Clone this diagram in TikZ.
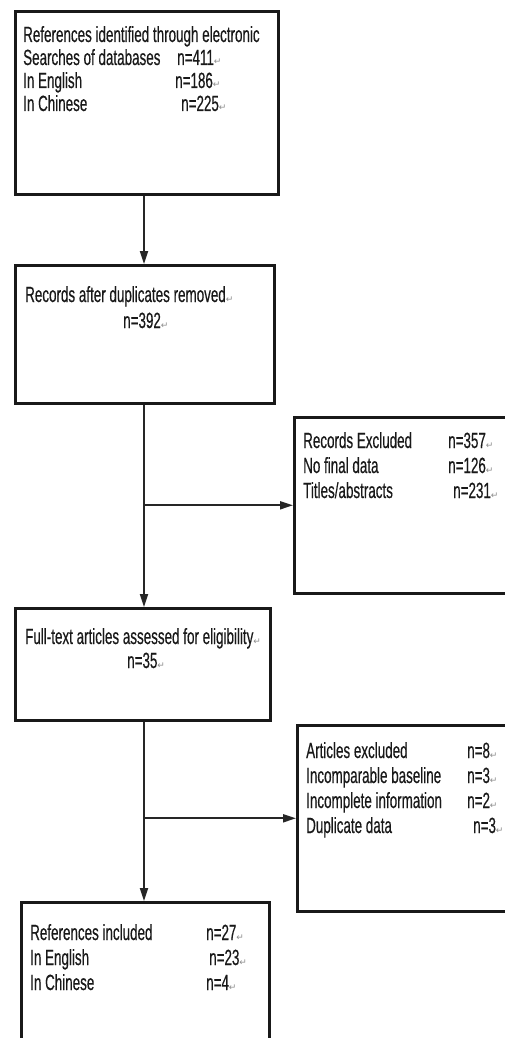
\documentclass[tikz,border=0pt]{standalone}
\usepackage{fontspec}
\setmainfont{Liberation Sans}[FakeStretch=0.61,FakeBold=0.4]
\newfontfamily\markfont{DejaVu Sans}
\usetikzlibrary{arrows.meta}
\newcommand{\pmk}{{\markfont\fontsize{9}{9}\selectfont\textcolor{black!45}{↵}}}

\tikzset{
  box/.style={draw=black!90, line width=2.6pt, anchor=north west, inner sep=0pt},
  txt/.style={anchor=base west, inner sep=0pt, text=black!90, font=\fontsize{22}{23}\selectfont},
  arr/.style={draw=black!85, line width=1.9pt, -{Triangle[length=13pt,width=8pt]}}
}

\begin{document}
\begin{tikzpicture}[x=1pt, y=-1pt]
    \useasboundingbox (0,0) rectangle (505,1038);
    \clip (0,0) rectangle (505,1038);

    % boxes
    \node[box, minimum width=263pt, minimum height=183pt] (b1) at (14,10) {};
    \node[box, minimum width=259pt, minimum height=138pt] (b2) at (14,264) {};
    \node[box, minimum width=255pt, minimum height=112pt] (b3) at (14,607) {};
    \node[box, minimum width=248pt, minimum height=160pt] (b4) at (20,901) {};
    \node[box, minimum width=230pt, minimum height=176pt] (exA) at (293,416) {};
    \node[box, minimum width=230pt, minimum height=186pt] (exB) at (296,724) {};

    % texts
    \node[txt] (t1a) at (23,42) {References identified through electronic};
    \node[txt] (t1b) at (23,65) {Searches of databases};
    \node[txt] (t1c) at (23,88) {In English};
    \node[txt] (t1d) at (23,111) {In Chinese};
    \node[txt] (n1b) at (177,65) {n=411\pmk};
    \node[txt] (n1c) at (175,88) {n=186\pmk};
    \node[txt] (n1d) at (181,111) {n=225\pmk};

    \node[txt] (t2a) at (25,302) {Records after duplicates removed\pmk};
    \node[txt] (n2a) at (123,328) {n=392\pmk};

    \node[txt] (t3a) at (25,644) {Full-text articles assessed for eligibility\pmk};
    \node[txt] (n3a) at (127,668) {n=35\pmk};

    \node[txt] (tAa) at (303,448) {Records Excluded};
    \node[txt] (tAb) at (303,473) {No final data};
    \node[txt] (tAc) at (303,498) {Titles/abstracts};
    \node[txt] (nAa) at (448,448) {n=357\pmk};
    \node[txt] (nAb) at (448,473) {n=126\pmk};
    \node[txt] (nAc) at (453,498) {n=231\pmk};

    \node[txt] (tBa) at (306,758) {Articles excluded};
    \node[txt] (tBb) at (306,783) {Incomparable baseline};
    \node[txt] (tBc) at (306,808) {Incomplete information};
    \node[txt] (tBd) at (306,833) {Duplicate data};
    \node[txt] (nBa) at (467,758) {n=8\pmk};
    \node[txt] (nBb) at (467,783) {n=3\pmk};
    \node[txt] (nBc) at (467,808) {n=2\pmk};
    \node[txt] (nBd) at (473,833) {n=3\pmk};

    \node[txt] (t4a) at (30,940) {References included};
    \node[txt] (t4b) at (30,965) {In English};
    \node[txt] (t4c) at (30,990) {In Chinese};
    \node[txt] (n4a) at (206,940) {n=27\pmk};
    \node[txt] (n4b) at (209,965) {n=23\pmk};
    \node[txt] (n4c) at (206,990) {n=4\pmk};

    % connectors
    \coordinate (spine) at (144,0);
    \draw[arr] (spine |- b1.south) -- (spine |- b2.north);
    \draw[arr] (spine |- b2.south) -- (spine |- b3.north);
    \draw[arr] (spine |- exA.west) -- (exA.west);
    \draw[arr] (spine |- b3.south) -- (spine |- b4.north);
    \draw[arr] (spine |- exB.west) -- (exB.west);
\end{tikzpicture}
\end{document}
